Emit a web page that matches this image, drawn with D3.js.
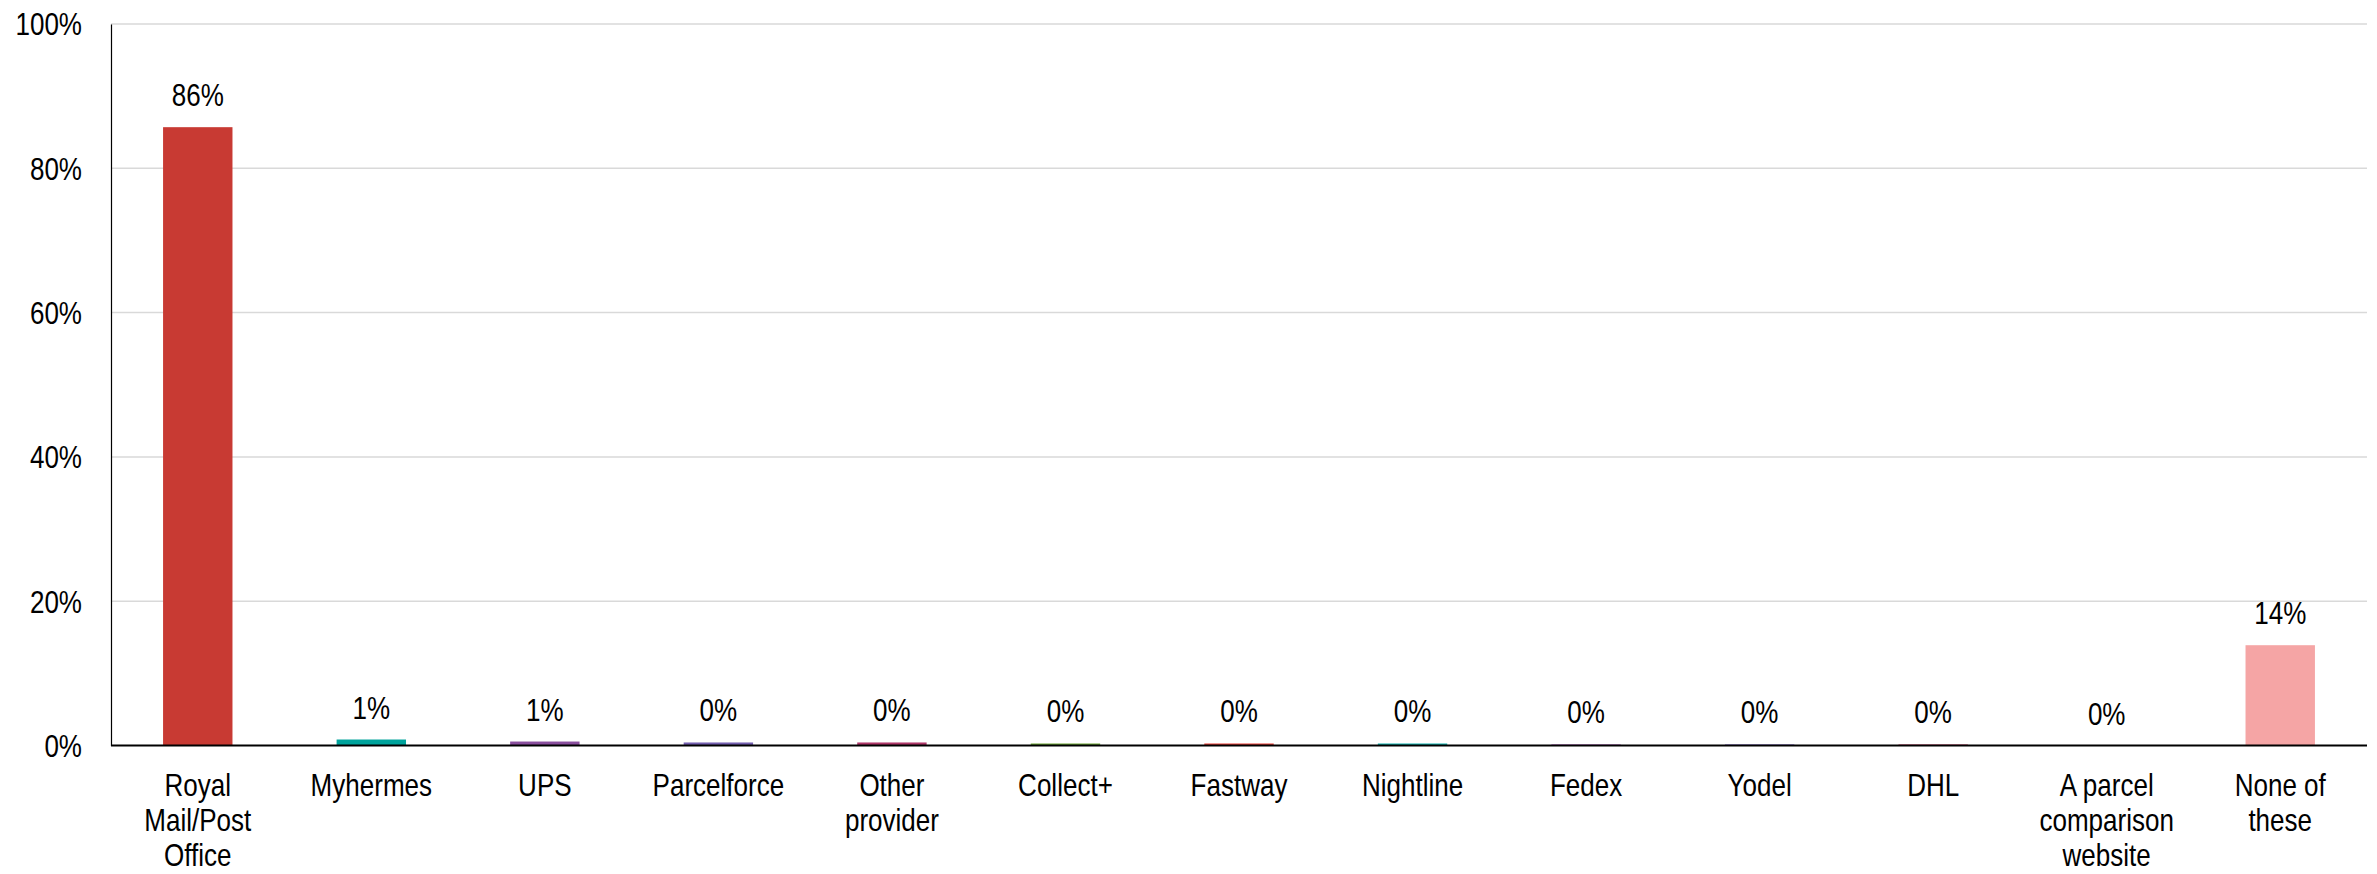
<!DOCTYPE html>
<html>
<head>
<meta charset="utf-8">
<script src="https://cdn.jsdelivr.net/npm/d3@7/dist/d3.min.js"></script>
<style>
  html, body { margin: 0; padding: 0; background: #fff; }
  svg { display: block; }
  text { font-family: "Liberation Sans", Arial, sans-serif; fill: #000; }
</style>
</head>
<body>
<svg id="chart" width="2377" height="874"></svg>
<script>
const categories = ["Royal\nMail/Post\nOffice", "Myhermes", "UPS", "Parcelforce", "Other\nprovider",
  "Collect+", "Fastway", "Nightline", "Fedex", "Yodel", "DHL", "A parcel\ncomparison\nwebsite", "None of\nthese"];
const values = [85.7, 0.83, 0.55, 0.42, 0.42, 0.28, 0.28, 0.28, 0.14, 0.14, 0.14, 0.0, 13.9];
const valueLabels = ["86%", "1%", "1%", "0%", "0%", "0%", "0%", "0%", "0%", "0%", "0%", "0%", "14%"];
const colors = ["#C83A33", "#00A39C", "#8A4F9E", "#7560B0", "#B0386A", "#6FA83A", "#E8423A",
  "#17B5B0", "#A040B0", "#6A50C0", "#D0305A", "#999999", "#F5A5A5"];
const yTicks = [0, 20, 40, 60, 80, 100];

const FS = "31px", SX = 0.84;
const svg = d3.select("#chart");
const m = { left: 111, right: 2367, top: 24, bottom: 745.5 };

const x = d3.scaleBand().domain(d3.range(categories.length))
  .range([m.left, m.right]).paddingInner(0.6).paddingOuter(0.3);
const y = d3.scaleLinear().domain([0, 100]).range([m.bottom, m.top]);
const cx = i => x(i) + x.bandwidth() / 2;

// gridlines
svg.append("g").selectAll("line").data(yTicks.filter(d => d > 0)).join("line")
  .attr("x1", m.left).attr("x2", m.right)
  .attr("y1", d => y(d)).attr("y2", d => y(d))
  .attr("stroke", "#D9D9D9").attr("stroke-width", 1.5);

// y axis
const yAxis = svg.append("g").attr("transform", `translate(${m.left},0)`)
  .call(d3.axisLeft(y).tickValues(yTicks).tickFormat(d => d + "%").tickSize(0).tickPadding(29));
yAxis.select(".domain").attr("stroke", "#000").attr("stroke-width", 1.2);
yAxis.selectAll("text")
  .attr("x", 0).attr("dy", "0.35em")
  .attr("transform", `translate(-29,0) scale(${SX},1)`)
  .attr("fill", "#000")
  .style("font-size", FS).style("font-family", '"Liberation Sans", Arial, sans-serif');

// bars
svg.append("g").selectAll("rect").data(values).join("rect")
  .attr("x", (d, i) => x(i)).attr("width", x.bandwidth())
  .attr("y", d => y(d)).attr("height", d => y(0) - y(d))
  .attr("fill", (d, i) => colors[i]);

// baseline
svg.append("line").attr("x1", m.left).attr("x2", m.right)
  .attr("y1", y(0)).attr("y2", y(0)).attr("stroke", "#000").attr("stroke-width", 2);

// value labels
svg.append("g").selectAll("text").data(values).join("text")
  .attr("transform", (d, i) => `translate(${cx(i)},${y(d) - 21}) scale(${SX},1)`)
  .attr("text-anchor", "middle").style("font-size", FS)
  .text((d, i) => valueLabels[i]);

// x labels
const xl = svg.append("g").selectAll("text").data(categories).join("text")
  .attr("transform", (d, i) => `translate(${cx(i)},796) scale(${SX},1)`)
  .attr("text-anchor", "middle").style("font-size", FS);
xl.each(function(d) {
  const t = d3.select(this);
  d.split("\n").forEach((line, k) => {
    t.append("tspan").attr("x", 0).attr("dy", k === 0 ? 0 : 35).text(line);
  });
});
</script>
</body>
</html>
